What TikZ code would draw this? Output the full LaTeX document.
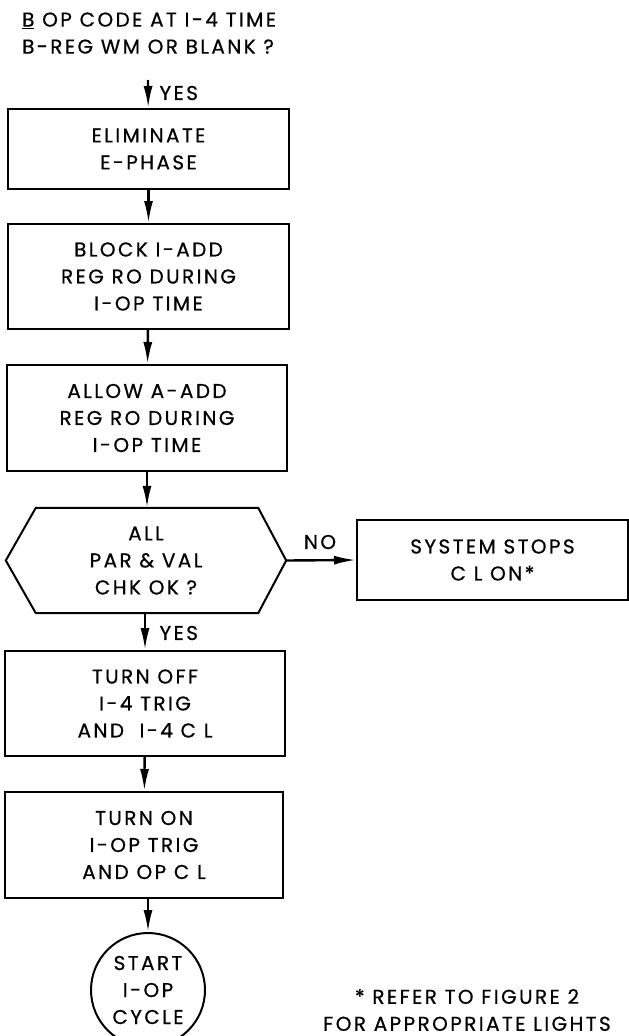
\documentclass[tikz,border=0pt]{standalone}
\usepackage{fontspec}
\setmainfont{Poppins}[FakeBold=0.6, LetterSpace=12]
\usetikzlibrary{arrows.meta}

\begin{document}
\begin{tikzpicture}[
        x=1pt, y=-1pt,
        every node/.style={font=\fontsize{20}{27}\selectfont},
        box/.style={draw, line width=2pt, align=center, inner sep=0pt},
        flow/.style={line width=2.4pt, -{Latex[length=22pt,width=9pt]}}
    ]
    \useasboundingbox (0,0) rectangle (629,1036);

    \node[
        align=left,
        anchor=west,
        inner sep=0pt,
        name=quest
    ] at (22,33) {\underline{B} OP CODE AT I-4 TIME\\B-REG WM OR BLANK ?};
    \coordinate (questout) at (148,80);

    \node[
        box,
        minimum width=281,
        minimum height=80,
        name=elim
    ] at (148.5,149) {ELIMINATE\\E-PHASE};
    \node[
        box,
        minimum width=281,
        minimum height=105,
        name=block
    ] at (148.5,276.5) {BLOCK I-ADD\\REG RO DURING\\I-OP TIME};
    \node[
        box,
        minimum width=280,
        minimum height=106,
        name=allow
    ] at (147,418) {ALLOW A-ADD\\REG RO DURING\\I-OP TIME};

    % decision
    \node[
        align=center,
        inner sep=0pt,
        minimum width=280,
        minimum height=105,
        name=chk
    ] at (146,560.5) {ALL\\PAR \& VAL\\CHK OK ?};
    \draw[line width=2pt]
        ([xshift=30]chk.north west) -- ([xshift=-28]chk.north east)
        -- (chk.east) -- ([xshift=-28]chk.south east)
        -- ([xshift=30]chk.south west) -- (chk.west) -- cycle;

    \node[
        box,
        minimum width=271,
        minimum height=80,
        name=stop
    ] at (492.5,560) {SYSTEM STOPS\\C L ON*};

    \node[
        box,
        minimum width=280,
        minimum height=105,
        name=off
    ] at (145,703.5) {TURN OFF\\I-4 TRIG\\AND \ I-4 C L};
    \node[
        box,
        minimum width=278,
        minimum height=106,
        name=on
    ] at (144,845) {TURN ON\\I-OP TRIG\\AND OP C L};

    \node[
        draw,
        circle,
        line width=2pt,
        minimum size=114,
        inner sep=0pt,
        align=center,
        name=start
    ] at (148,990) {START\\I-OP\\CYCLE};

    \draw[flow] (questout) -- (elim);
    \draw[flow] (elim) -- (block);
    \draw[flow] (block) -- (allow);
    \draw[flow] (allow.south) -- (allow.south |- chk.north);
    \draw[flow] (chk.east) -- (stop.west);
    \draw[flow] (chk.south -| off.north) -- (off.north);
    \draw[flow] (off) -- (on);
    \draw[flow] (on.south -| start.north) -- (start.north);

    \node[anchor=west, name=yes1] at (156,93) {YES};
    \node[anchor=west, name=yes2] at (156,633) {YES};
    \node[name=no] at (320,542) {NO};

    \node[
        align=center,
        name=note
    ] at (467,1010) {* REFER TO FIGURE 2\\FOR APPROPRIATE LIGHTS};
\end{tikzpicture}
\end{document}
